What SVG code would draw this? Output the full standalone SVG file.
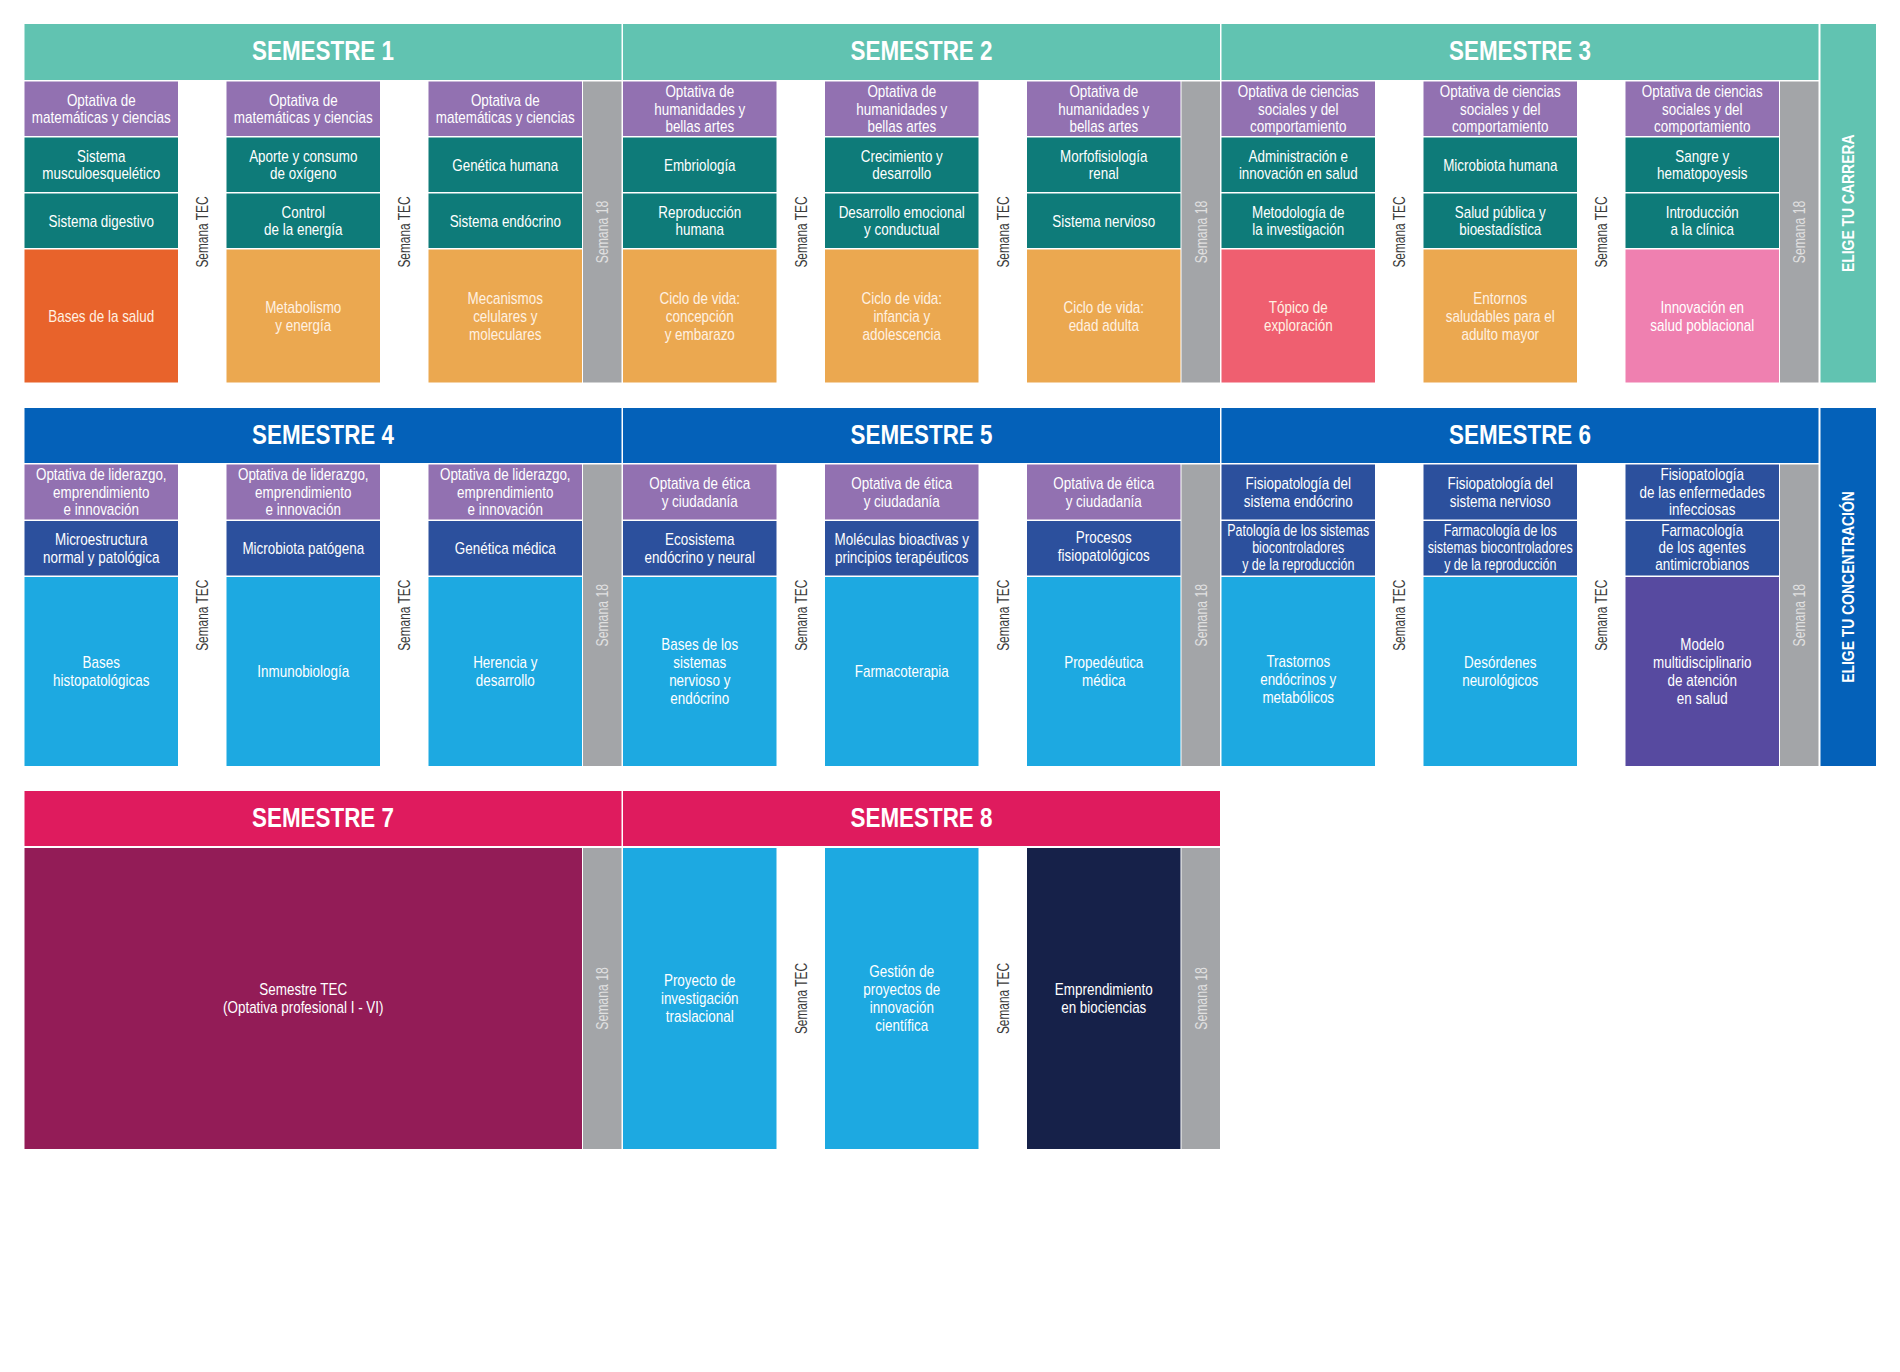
<svg xmlns="http://www.w3.org/2000/svg" width="1900" height="1372" viewBox="0 0 1900 1372">
<style>
.th{fill:#61c3b1}.pur{fill:#9271b1}.dt{fill:#0e7b79}.or{fill:#e8632b}.lo{fill:#eba850}.gr{fill:#a3a5a8}.co{fill:#ef5f70}.pk{fill:#ef80b0}
.bh{fill:#0461b9}.db{fill:#2c509d}.lb{fill:#1da9e1}.mo{fill:#574aa0}.ph{fill:#df1b5e}.st{fill:#931c57}.nv{fill:#162149}
.h{font-family:"Liberation Sans",Arial,sans-serif;font-weight:bold;font-size:28px;fill:#fff;text-anchor:middle}
.t{font-family:"Liberation Sans",Arial,sans-serif;font-size:16px;fill:#fff;text-anchor:middle}
.c{fill:#fff1e2}
.v{font-family:"Liberation Sans",Arial,sans-serif;font-size:17px;fill:#3b3b3b;text-anchor:middle}
.w{fill:#e0e0e0}
.e{font-family:"Liberation Sans",Arial,sans-serif;font-weight:bold;font-size:16px;fill:#fff;text-anchor:middle}
</style>
<rect width="1900" height="1372" fill="#fff"/>
<g id="connectors"/>

<!-- ROW 1 -->
<g id="sem1-header"><rect class="th" x="24.5" y="24" width="597" height="56"/><text class="h" transform="translate(323 0) scale(.8 1)" x="0" y="60">SEMESTRE 1</text></g>
<g id="sem2-header"><rect class="th" x="623" y="24" width="597" height="56"/><text class="h" transform="translate(921.5 0) scale(.8 1)" x="0" y="60">SEMESTRE 2</text></g>
<g id="sem3-header"><rect class="th" x="1221.5" y="24" width="597" height="56"/><text class="h" transform="translate(1520 0) scale(.8 1)" x="0" y="60">SEMESTRE 3</text></g>
<g id="elige-carrera"><rect class="th" x="1820.5" y="24" width="55.5" height="358.5"/><text class="e" transform="translate(1848.5 203.25) rotate(-90) scale(.87 1)" x="0" y="5.7">ELIGE TU CARRERA</text></g>

<!-- S1 -->
<g id="s1-c1-r1"><rect class="pur" x="24.5" y="81.5" width="153.5" height="54.5"/><text class="t" transform="translate(101.25 0) scale(.84 1)"><tspan x="0" y="106">Optativa de</tspan><tspan x="0" y="123.5">matemáticas y ciencias</tspan></text></g>
<g id="s1-c1-r2"><rect class="dt" x="24.5" y="137.5" width="153.5" height="54.5"/><text class="t" transform="translate(101.25 0) scale(.84 1)"><tspan x="0" y="162">Sistema</tspan><tspan x="0" y="179.5">musculoesquelético</tspan></text></g>
<g id="s1-c1-r3"><rect class="dt" x="24.5" y="193.5" width="153.5" height="54.5"/><text class="t" transform="translate(101.25 0) scale(.84 1)"><tspan x="0" y="226.75">Sistema digestivo</tspan></text></g>
<g id="s1-c1-r4"><rect class="or" x="24.5" y="249.5" width="153.5" height="133"/><text class="t c" transform="translate(101.25 0) scale(.84 1)"><tspan x="0" y="322">Bases de la salud</tspan></text></g>

<g id="s1-c2-r1"><rect class="pur" x="226.5" y="81.5" width="153.5" height="54.5"/><text class="t" transform="translate(303.25 0) scale(.84 1)"><tspan x="0" y="106">Optativa de</tspan><tspan x="0" y="123.5">matemáticas y ciencias</tspan></text></g>
<g id="s1-c2-r2"><rect class="dt" x="226.5" y="137.5" width="153.5" height="54.5"/><text class="t" transform="translate(303.25 0) scale(.84 1)"><tspan x="0" y="162">Aporte y consumo</tspan><tspan x="0" y="179.5">de oxígeno</tspan></text></g>
<g id="s1-c2-r3"><rect class="dt" x="226.5" y="193.5" width="153.5" height="54.5"/><text class="t" transform="translate(303.25 0) scale(.84 1)"><tspan x="0" y="218">Control</tspan><tspan x="0" y="235.5">de la energía</tspan></text></g>
<g id="s1-c2-r4"><rect class="lo" x="226.5" y="249.5" width="153.5" height="133"/><text class="t c" transform="translate(303.25 0) scale(.84 1)"><tspan x="0" y="313">Metabolismo</tspan><tspan x="0" y="331">y energía</tspan></text></g>

<g id="s1-c3-r1"><rect class="pur" x="428.5" y="81.5" width="153.5" height="54.5"/><text class="t" transform="translate(505.25 0) scale(.84 1)"><tspan x="0" y="106">Optativa de</tspan><tspan x="0" y="123.5">matemáticas y ciencias</tspan></text></g>
<g id="s1-c3-r2"><rect class="dt" x="428.5" y="137.5" width="153.5" height="54.5"/><text class="t" transform="translate(505.25 0) scale(.84 1)"><tspan x="0" y="170.75">Genética humana</tspan></text></g>
<g id="s1-c3-r3"><rect class="dt" x="428.5" y="193.5" width="153.5" height="54.5"/><text class="t" transform="translate(505.25 0) scale(.84 1)"><tspan x="0" y="226.75">Sistema endócrino</tspan></text></g>
<g id="s1-c3-r4"><rect class="lo" x="428.5" y="249.5" width="153.5" height="133"/><text class="t c" transform="translate(505.25 0) scale(.84 1)"><tspan x="0" y="304">Mecanismos</tspan><tspan x="0" y="322">celulares y</tspan><tspan x="0" y="340">moleculares</tspan></text></g>

<g id="s1-tec1"><text class="v" transform="translate(202.25 232) rotate(-90) scale(.7 1)" x="0" y="6">Semana TEC</text></g>
<g id="s1-tec2"><text class="v" transform="translate(404.25 232) rotate(-90) scale(.7 1)" x="0" y="6">Semana TEC</text></g>
<g id="s1-w18"><rect class="gr" x="583" y="81.5" width="38.5" height="301"/><text class="v w" transform="translate(602.25 232) rotate(-90) scale(.72 1)" x="0" y="6">Semana 18</text></g>

<!-- S2 -->
<g id="s2-c1-r1"><rect class="pur" x="623" y="81.5" width="153.5" height="54.5"/><text class="t" transform="translate(699.75 0) scale(.84 1)"><tspan x="0" y="97.25">Optativa de</tspan><tspan x="0" y="114.75">humanidades y</tspan><tspan x="0" y="132.25">bellas artes</tspan></text></g>
<g id="s2-c1-r2"><rect class="dt" x="623" y="137.5" width="153.5" height="54.5"/><text class="t" transform="translate(699.75 0) scale(.84 1)"><tspan x="0" y="170.75">Embriología</tspan></text></g>
<g id="s2-c1-r3"><rect class="dt" x="623" y="193.5" width="153.5" height="54.5"/><text class="t" transform="translate(699.75 0) scale(.84 1)"><tspan x="0" y="218">Reproducción</tspan><tspan x="0" y="235.5">humana</tspan></text></g>
<g id="s2-c1-r4"><rect class="lo" x="623" y="249.5" width="153.5" height="133"/><text class="t c" transform="translate(699.75 0) scale(.84 1)"><tspan x="0" y="304">Ciclo de vida:</tspan><tspan x="0" y="322">concepción</tspan><tspan x="0" y="340">y embarazo</tspan></text></g>

<g id="s2-c2-r1"><rect class="pur" x="825" y="81.5" width="153.5" height="54.5"/><text class="t" transform="translate(901.75 0) scale(.84 1)"><tspan x="0" y="97.25">Optativa de</tspan><tspan x="0" y="114.75">humanidades y</tspan><tspan x="0" y="132.25">bellas artes</tspan></text></g>
<g id="s2-c2-r2"><rect class="dt" x="825" y="137.5" width="153.5" height="54.5"/><text class="t" transform="translate(901.75 0) scale(.84 1)"><tspan x="0" y="162">Crecimiento y</tspan><tspan x="0" y="179.5">desarrollo</tspan></text></g>
<g id="s2-c2-r3"><rect class="dt" x="825" y="193.5" width="153.5" height="54.5"/><text class="t" transform="translate(901.75 0) scale(.84 1)"><tspan x="0" y="218">Desarrollo emocional</tspan><tspan x="0" y="235.5">y conductual</tspan></text></g>
<g id="s2-c2-r4"><rect class="lo" x="825" y="249.5" width="153.5" height="133"/><text class="t c" transform="translate(901.75 0) scale(.84 1)"><tspan x="0" y="304">Ciclo de vida:</tspan><tspan x="0" y="322">infancia y</tspan><tspan x="0" y="340">adolescencia</tspan></text></g>

<g id="s2-c3-r1"><rect class="pur" x="1027" y="81.5" width="153.5" height="54.5"/><text class="t" transform="translate(1103.75 0) scale(.84 1)"><tspan x="0" y="97.25">Optativa de</tspan><tspan x="0" y="114.75">humanidades y</tspan><tspan x="0" y="132.25">bellas artes</tspan></text></g>
<g id="s2-c3-r2"><rect class="dt" x="1027" y="137.5" width="153.5" height="54.5"/><text class="t" transform="translate(1103.75 0) scale(.84 1)"><tspan x="0" y="162">Morfofisiología</tspan><tspan x="0" y="179.5">renal</tspan></text></g>
<g id="s2-c3-r3"><rect class="dt" x="1027" y="193.5" width="153.5" height="54.5"/><text class="t" transform="translate(1103.75 0) scale(.84 1)"><tspan x="0" y="226.75">Sistema nervioso</tspan></text></g>
<g id="s2-c3-r4"><rect class="lo" x="1027" y="249.5" width="153.5" height="133"/><text class="t c" transform="translate(1103.75 0) scale(.84 1)"><tspan x="0" y="313">Ciclo de vida:</tspan><tspan x="0" y="331">edad adulta</tspan></text></g>

<g id="s2-tec1"><text class="v" transform="translate(800.75 232) rotate(-90) scale(.7 1)" x="0" y="6">Semana TEC</text></g>
<g id="s2-tec2"><text class="v" transform="translate(1002.75 232) rotate(-90) scale(.7 1)" x="0" y="6">Semana TEC</text></g>
<g id="s2-w18"><rect class="gr" x="1181.5" y="81.5" width="38.5" height="301"/><text class="v w" transform="translate(1200.75 232) rotate(-90) scale(.72 1)" x="0" y="6">Semana 18</text></g>

<!-- S3 -->
<g id="s3-c1-r1"><rect class="pur" x="1221.5" y="81.5" width="153.5" height="54.5"/><text class="t" transform="translate(1298.25 0) scale(.84 1)"><tspan x="0" y="97.25">Optativa de ciencias</tspan><tspan x="0" y="114.75">sociales y del</tspan><tspan x="0" y="132.25">comportamiento</tspan></text></g>
<g id="s3-c1-r2"><rect class="dt" x="1221.5" y="137.5" width="153.5" height="54.5"/><text class="t" transform="translate(1298.25 0) scale(.84 1)"><tspan x="0" y="162">Administración e</tspan><tspan x="0" y="179.5">innovación en salud</tspan></text></g>
<g id="s3-c1-r3"><rect class="dt" x="1221.5" y="193.5" width="153.5" height="54.5"/><text class="t" transform="translate(1298.25 0) scale(.84 1)"><tspan x="0" y="218">Metodología de</tspan><tspan x="0" y="235.5">la investigación</tspan></text></g>
<g id="s3-c1-r4"><rect class="co" x="1221.5" y="249.5" width="153.5" height="133"/><text class="t c" transform="translate(1298.25 0) scale(.84 1)"><tspan x="0" y="313">Tópico de</tspan><tspan x="0" y="331">exploración</tspan></text></g>

<g id="s3-c2-r1"><rect class="pur" x="1423.5" y="81.5" width="153.5" height="54.5"/><text class="t" transform="translate(1500.25 0) scale(.84 1)"><tspan x="0" y="97.25">Optativa de ciencias</tspan><tspan x="0" y="114.75">sociales y del</tspan><tspan x="0" y="132.25">comportamiento</tspan></text></g>
<g id="s3-c2-r2"><rect class="dt" x="1423.5" y="137.5" width="153.5" height="54.5"/><text class="t" transform="translate(1500.25 0) scale(.84 1)"><tspan x="0" y="170.75">Microbiota humana</tspan></text></g>
<g id="s3-c2-r3"><rect class="dt" x="1423.5" y="193.5" width="153.5" height="54.5"/><text class="t" transform="translate(1500.25 0) scale(.84 1)"><tspan x="0" y="218">Salud pública y</tspan><tspan x="0" y="235.5">bioestadística</tspan></text></g>
<g id="s3-c2-r4"><rect class="lo" x="1423.5" y="249.5" width="153.5" height="133"/><text class="t c" transform="translate(1500.25 0) scale(.84 1)"><tspan x="0" y="304">Entornos</tspan><tspan x="0" y="322">saludables para el</tspan><tspan x="0" y="340">adulto mayor</tspan></text></g>

<g id="s3-c3-r1"><rect class="pur" x="1625.5" y="81.5" width="153.5" height="54.5"/><text class="t" transform="translate(1702.25 0) scale(.84 1)"><tspan x="0" y="97.25">Optativa de ciencias</tspan><tspan x="0" y="114.75">sociales y del</tspan><tspan x="0" y="132.25">comportamiento</tspan></text></g>
<g id="s3-c3-r2"><rect class="dt" x="1625.5" y="137.5" width="153.5" height="54.5"/><text class="t" transform="translate(1702.25 0) scale(.84 1)"><tspan x="0" y="162">Sangre y</tspan><tspan x="0" y="179.5">hematopoyesis</tspan></text></g>
<g id="s3-c3-r3"><rect class="dt" x="1625.5" y="193.5" width="153.5" height="54.5"/><text class="t" transform="translate(1702.25 0) scale(.84 1)"><tspan x="0" y="218">Introducción</tspan><tspan x="0" y="235.5">a la clínica</tspan></text></g>
<g id="s3-c3-r4"><rect class="pk" x="1625.5" y="249.5" width="153.5" height="133"/><text class="t" transform="translate(1702.25 0) scale(.84 1)"><tspan x="0" y="313">Innovación en</tspan><tspan x="0" y="331">salud poblacional</tspan></text></g>

<g id="s3-tec1"><text class="v" transform="translate(1399.25 232) rotate(-90) scale(.7 1)" x="0" y="6">Semana TEC</text></g>
<g id="s3-tec2"><text class="v" transform="translate(1601.25 232) rotate(-90) scale(.7 1)" x="0" y="6">Semana TEC</text></g>
<g id="s3-w18"><rect class="gr" x="1780" y="81.5" width="38.5" height="301"/><text class="v w" transform="translate(1799.25 232) rotate(-90) scale(.72 1)" x="0" y="6">Semana 18</text></g>

<!-- ROW 2 -->
<g id="sem4-header"><rect class="bh" x="24.5" y="408" width="597" height="55"/><text class="h" transform="translate(323 0) scale(.8 1)" x="0" y="444">SEMESTRE 4</text></g>
<g id="sem5-header"><rect class="bh" x="623" y="408" width="597" height="55"/><text class="h" transform="translate(921.5 0) scale(.8 1)" x="0" y="444">SEMESTRE 5</text></g>
<g id="sem6-header"><rect class="bh" x="1221.5" y="408" width="597" height="55"/><text class="h" transform="translate(1520 0) scale(.8 1)" x="0" y="444">SEMESTRE 6</text></g>
<g id="elige-concentracion"><rect class="bh" x="1820.5" y="408" width="55.5" height="358"/><text class="e" transform="translate(1848.5 587) rotate(-90) scale(.87 1)" x="0" y="5.7">ELIGE TU CONCENTRACIÓN</text></g>

<!-- S4 -->
<g id="s4-c1-r1"><rect class="pur" x="24.5" y="464.5" width="153.5" height="55"/><text class="t" transform="translate(101.25 0) scale(.84 1)"><tspan x="0" y="480.5">Optativa de liderazgo,</tspan><tspan x="0" y="498">emprendimiento</tspan><tspan x="0" y="515.5">e innovación</tspan></text></g>
<g id="s4-c1-r2"><rect class="db" x="24.5" y="521" width="153.5" height="54.5"/><text class="t" transform="translate(101.25 0) scale(.84 1)"><tspan x="0" y="545.5">Microestructura</tspan><tspan x="0" y="563">normal y patológica</tspan></text></g>
<g id="s4-c1-r3"><rect class="lb" x="24.5" y="577" width="153.5" height="189"/><text class="t" transform="translate(101.25 0) scale(.84 1)"><tspan x="0" y="668.5">Bases</tspan><tspan x="0" y="686.5">histopatológicas</tspan></text></g>

<g id="s4-c2-r1"><rect class="pur" x="226.5" y="464.5" width="153.5" height="55"/><text class="t" transform="translate(303.25 0) scale(.84 1)"><tspan x="0" y="480.5">Optativa de liderazgo,</tspan><tspan x="0" y="498">emprendimiento</tspan><tspan x="0" y="515.5">e innovación</tspan></text></g>
<g id="s4-c2-r2"><rect class="db" x="226.5" y="521" width="153.5" height="54.5"/><text class="t" transform="translate(303.25 0) scale(.84 1)"><tspan x="0" y="554.25">Microbiota patógena</tspan></text></g>
<g id="s4-c2-r3"><rect class="lb" x="226.5" y="577" width="153.5" height="189"/><text class="t" transform="translate(303.25 0) scale(.84 1)"><tspan x="0" y="677.5">Inmunobiología</tspan></text></g>

<g id="s4-c3-r1"><rect class="pur" x="428.5" y="464.5" width="153.5" height="55"/><text class="t" transform="translate(505.25 0) scale(.84 1)"><tspan x="0" y="480.5">Optativa de liderazgo,</tspan><tspan x="0" y="498">emprendimiento</tspan><tspan x="0" y="515.5">e innovación</tspan></text></g>
<g id="s4-c3-r2"><rect class="db" x="428.5" y="521" width="153.5" height="54.5"/><text class="t" transform="translate(505.25 0) scale(.84 1)"><tspan x="0" y="554.25">Genética médica</tspan></text></g>
<g id="s4-c3-r3"><rect class="lb" x="428.5" y="577" width="153.5" height="189"/><text class="t" transform="translate(505.25 0) scale(.84 1)"><tspan x="0" y="668.5">Herencia y</tspan><tspan x="0" y="686.5">desarrollo</tspan></text></g>

<g id="s4-tec1"><text class="v" transform="translate(202.25 615.25) rotate(-90) scale(.7 1)" x="0" y="6">Semana TEC</text></g>
<g id="s4-tec2"><text class="v" transform="translate(404.25 615.25) rotate(-90) scale(.7 1)" x="0" y="6">Semana TEC</text></g>
<g id="s4-w18"><rect class="gr" x="583" y="464.5" width="38.5" height="301.5"/><text class="v w" transform="translate(602.25 615.25) rotate(-90) scale(.72 1)" x="0" y="6">Semana 18</text></g>

<!-- S5 -->
<g id="s5-c1-r1"><rect class="pur" x="623" y="464.5" width="153.5" height="55"/><text class="t" transform="translate(699.75 0) scale(.84 1)"><tspan x="0" y="489.25">Optativa de ética</tspan><tspan x="0" y="506.75">y ciudadanía</tspan></text></g>
<g id="s5-c1-r2"><rect class="db" x="623" y="521" width="153.5" height="54.5"/><text class="t" transform="translate(699.75 0) scale(.84 1)"><tspan x="0" y="545.5">Ecosistema</tspan><tspan x="0" y="563">endócrino y neural</tspan></text></g>
<g id="s5-c1-r3"><rect class="lb" x="623" y="577" width="153.5" height="189"/><text class="t" transform="translate(699.75 0) scale(.84 1)"><tspan x="0" y="650.5">Bases de los</tspan><tspan x="0" y="668.5">sistemas</tspan><tspan x="0" y="686.5">nervioso y</tspan><tspan x="0" y="704.5">endócrino</tspan></text></g>

<g id="s5-c2-r1"><rect class="pur" x="825" y="464.5" width="153.5" height="55"/><text class="t" transform="translate(901.75 0) scale(.84 1)"><tspan x="0" y="489.25">Optativa de ética</tspan><tspan x="0" y="506.75">y ciudadanía</tspan></text></g>
<g id="s5-c2-r2"><rect class="db" x="825" y="521" width="153.5" height="54.5"/><text class="t" transform="translate(901.75 0) scale(.84 1)"><tspan x="0" y="545.5">Moléculas bioactivas y</tspan><tspan x="0" y="563">principios terapéuticos</tspan></text></g>
<g id="s5-c2-r3"><rect class="lb" x="825" y="577" width="153.5" height="189"/><text class="t" transform="translate(901.75 0) scale(.84 1)"><tspan x="0" y="677.5">Farmacoterapia</tspan></text></g>

<g id="s5-c3-r1"><rect class="pur" x="1027" y="464.5" width="153.5" height="55"/><text class="t" transform="translate(1103.75 0) scale(.84 1)"><tspan x="0" y="489.25">Optativa de ética</tspan><tspan x="0" y="506.75">y ciudadanía</tspan></text></g>
<g id="s5-c3-r2"><rect class="db" x="1027" y="521" width="153.5" height="54.5"/><text class="t" transform="translate(1103.75 0) scale(.84 1)"><tspan x="0" y="543.5">Procesos</tspan><tspan x="0" y="561">fisiopatológicos</tspan></text></g>
<g id="s5-c3-r3"><rect class="lb" x="1027" y="577" width="153.5" height="189"/><text class="t" transform="translate(1103.75 0) scale(.84 1)"><tspan x="0" y="668.5">Propedéutica</tspan><tspan x="0" y="686.5">médica</tspan></text></g>

<g id="s5-tec1"><text class="v" transform="translate(800.75 615.25) rotate(-90) scale(.7 1)" x="0" y="6">Semana TEC</text></g>
<g id="s5-tec2"><text class="v" transform="translate(1002.75 615.25) rotate(-90) scale(.7 1)" x="0" y="6">Semana TEC</text></g>
<g id="s5-w18"><rect class="gr" x="1181.5" y="464.5" width="38.5" height="301.5"/><text class="v w" transform="translate(1200.75 615.25) rotate(-90) scale(.72 1)" x="0" y="6">Semana 18</text></g>

<!-- S6 -->
<g id="s6-c1-r1"><rect class="db" x="1221.5" y="464.5" width="153.5" height="55"/><text class="t" transform="translate(1298.25 0) scale(.84 1)"><tspan x="0" y="489.25">Fisiopatología del</tspan><tspan x="0" y="506.75">sistema endócrino</tspan></text></g>
<g id="s6-c1-r2"><rect class="db" x="1221.5" y="521" width="153.5" height="54.5"/><text class="t" transform="translate(1298.25 0) scale(.78 1)"><tspan x="0" y="536.5">Patología de los sistemas</tspan><tspan x="0" y="553.5">biocontroladores</tspan><tspan x="0" y="570.5">y de la reproducción</tspan></text></g>
<g id="s6-c1-r3"><rect class="lb" x="1221.5" y="577" width="153.5" height="189"/><text class="t" transform="translate(1298.25 0) scale(.84 1)"><tspan x="0" y="667">Trastornos</tspan><tspan x="0" y="685">endócrinos y</tspan><tspan x="0" y="703">metabólicos</tspan></text></g>

<g id="s6-c2-r1"><rect class="db" x="1423.5" y="464.5" width="153.5" height="55"/><text class="t" transform="translate(1500.25 0) scale(.84 1)"><tspan x="0" y="489.25">Fisiopatología del</tspan><tspan x="0" y="506.75">sistema nervioso</tspan></text></g>
<g id="s6-c2-r2"><rect class="db" x="1423.5" y="521" width="153.5" height="54.5"/><text class="t" transform="translate(1500.25 0) scale(.78 1)"><tspan x="0" y="536.5">Farmacología de los</tspan><tspan x="0" y="553.5">sistemas biocontroladores</tspan><tspan x="0" y="570.5">y de la reproducción</tspan></text></g>
<g id="s6-c2-r3"><rect class="lb" x="1423.5" y="577" width="153.5" height="189"/><text class="t" transform="translate(1500.25 0) scale(.84 1)"><tspan x="0" y="668.5">Desórdenes</tspan><tspan x="0" y="686.5">neurológicos</tspan></text></g>

<g id="s6-c3-r1"><rect class="db" x="1625.5" y="464.5" width="153.5" height="55"/><text class="t" transform="translate(1702.25 0) scale(.84 1)"><tspan x="0" y="480.5">Fisiopatología</tspan><tspan x="0" y="498">de las enfermedades</tspan><tspan x="0" y="515.5">infecciosas</tspan></text></g>
<g id="s6-c3-r2"><rect class="db" x="1625.5" y="521" width="153.5" height="54.5"/><text class="t" transform="translate(1702.25 0) scale(.84 1)"><tspan x="0" y="536.5">Farmacología</tspan><tspan x="0" y="553.5">de los agentes</tspan><tspan x="0" y="570.5">antimicrobianos</tspan></text></g>
<g id="s6-c3-r3"><rect class="mo" x="1625.5" y="577" width="153.5" height="189"/><text class="t" transform="translate(1702.25 0) scale(.84 1)"><tspan x="0" y="650.5">Modelo</tspan><tspan x="0" y="668.5">multidisciplinario</tspan><tspan x="0" y="686.5">de atención</tspan><tspan x="0" y="704.5">en salud</tspan></text></g>

<g id="s6-tec1"><text class="v" transform="translate(1399.25 615.25) rotate(-90) scale(.7 1)" x="0" y="6">Semana TEC</text></g>
<g id="s6-tec2"><text class="v" transform="translate(1601.25 615.25) rotate(-90) scale(.7 1)" x="0" y="6">Semana TEC</text></g>
<g id="s6-w18"><rect class="gr" x="1780" y="464.5" width="38.5" height="301.5"/><text class="v w" transform="translate(1799.25 615.25) rotate(-90) scale(.72 1)" x="0" y="6">Semana 18</text></g>

<!-- ROW 3 -->
<g id="sem7-header"><rect class="ph" x="24.5" y="791" width="597" height="55"/><text class="h" transform="translate(323 0) scale(.8 1)" x="0" y="827">SEMESTRE 7</text></g>
<g id="sem8-header"><rect class="ph" x="623" y="791" width="597" height="55"/><text class="h" transform="translate(921.5 0) scale(.8 1)" x="0" y="827">SEMESTRE 8</text></g>

<g id="s7-tec"><rect class="st" x="24.5" y="848" width="557.5" height="301"/><text class="t" transform="translate(303.25 0) scale(.84 1)"><tspan x="0" y="995.5">Semestre TEC</tspan><tspan x="0" y="1013.5">(Optativa profesional I - VI)</tspan></text></g>
<g id="s7-w18"><rect class="gr" x="583" y="848" width="38.5" height="301"/><text class="v w" transform="translate(602.25 998.5) rotate(-90) scale(.72 1)" x="0" y="6">Semana 18</text></g>

<g id="s8-c1"><rect class="lb" x="623" y="848" width="153.5" height="301"/><text class="t" transform="translate(699.75 0) scale(.84 1)"><tspan x="0" y="986.5">Proyecto de</tspan><tspan x="0" y="1004.5">investigación</tspan><tspan x="0" y="1022.5">traslacional</tspan></text></g>
<g id="s8-c2"><rect class="lb" x="825" y="848" width="153.5" height="301"/><text class="t" transform="translate(901.75 0) scale(.84 1)"><tspan x="0" y="977.5">Gestión de</tspan><tspan x="0" y="995.5">proyectos de</tspan><tspan x="0" y="1013.5">innovación</tspan><tspan x="0" y="1031.5">científica</tspan></text></g>
<g id="s8-c3"><rect class="nv" x="1027" y="848" width="153.5" height="301"/><text class="t" transform="translate(1103.75 0) scale(.84 1)"><tspan x="0" y="995.5">Emprendimiento</tspan><tspan x="0" y="1013.5">en biociencias</tspan></text></g>
<g id="s8-tec1"><text class="v" transform="translate(800.75 998.5) rotate(-90) scale(.7 1)" x="0" y="6">Semana TEC</text></g>
<g id="s8-tec2"><text class="v" transform="translate(1002.75 998.5) rotate(-90) scale(.7 1)" x="0" y="6">Semana TEC</text></g>
<g id="s8-w18"><rect class="gr" x="1181.5" y="848" width="38.5" height="301"/><text class="v w" transform="translate(1200.75 998.5) rotate(-90) scale(.72 1)" x="0" y="6">Semana 18</text></g>
</svg>
